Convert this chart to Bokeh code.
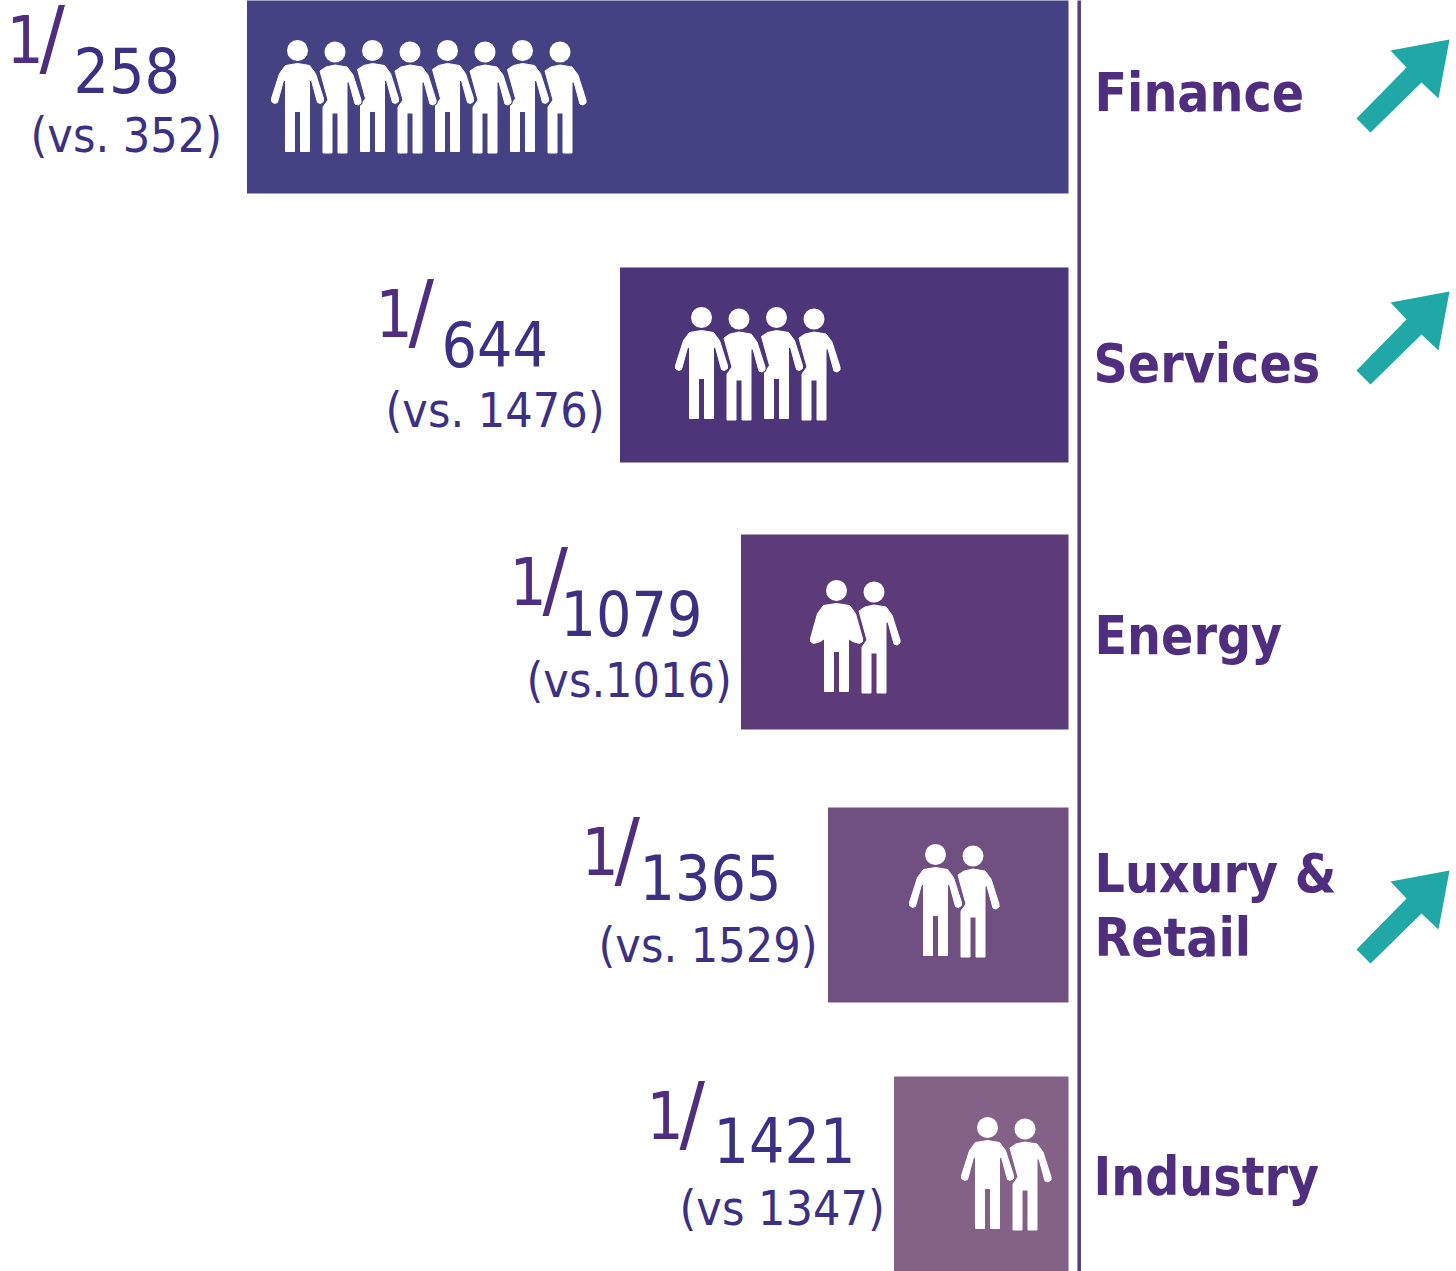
from bokeh.embed import file_html
from bokeh.resources import INLINE
from bokeh.plotting import figure
from bokeh.models import Range1d
from bokeh.core.properties import value

# ---- data
categories = ["Finance", "Services", "Energy", "Luxury &\nRetail", "Industry"]
current = ["258", "644", "1079", "1365", "1421"]
previous = ["(vs. 352)", "(vs. 1476)", "(vs.1016)", "(vs. 1529)", "(vs 1347)"]
bar_lengths = [821.5, 448.5, 327.5, 240.5, 174.5]
people = [8, 4, 2, 2, 2]
rising = [True, True, False, True, False]

# ---- layout
W, H = 1456, 1271
BAR_RIGHT = 1068
bar_tops = [-1, 267, 534, 807, 1076]
bar_bottoms = [193, 462, 729, 1002, 1272]
bar_colors = ["#454283", "#4d357a", "#5d3b78", "#705080", "#846288"]
one_x = [6, 375, 509, 581, 646]
one_y = [38, 312, 580, 850, 1114]
slash_x = [39, 408, 542, 614, 679]
slash_y = [36, 310, 578, 848, 1112]
cur_x = [73, 441, 560, 639, 713]
cur_y = [69, 343, 612, 876, 1139]
prev_x = [30, 385, 526, 598, 679]
prev_y = [134, 409, 679, 944, 1207]
label_x = [1094, 1093, 1094, 1094, 1093]
label_y = [92, 363, 635, 873, 1176]
head_x = [297, 701, 836, 935, 987]
head_y = [50, 317, 590, 854, 1127]
arrow_tip_y = [39, 291, None, 870, None]
STEP = 37.5
INK = "#3b3083"
PURPLE = "#4f2d7f"
TEAL = "#20a8a6"
FONT = "DejaVu Sans Condensed"

RIGHT_SIDE = [(0, 13), (12, 15), (18, 23), (26, 48), (26, 51), (23, 53), (20, 52), (14, 30),
              (12, 30), (12, 101), (3, 101), (3, 61), (-3, 61), (-3, 101), (-12, 101)]
LEFT_ARM = [(-12, 30), (-14, 30), (-20, 52), (-23, 53), (-26, 51), (-26, 48), (-18, 23), (-12, 15)]
LEFT_HIDDEN = [(-12, 55), (-7, 48), (-15, 19), (-9, 15)]
BODY_FRONT = RIGHT_SIDE + LEFT_ARM
BODY_BEHIND = RIGHT_SIDE + LEFT_HIDDEN
# the front figure in the Energy bar has arms merged with a broader torso
BODY_BROAD = [(0, 13), (13, 15), (19, 23), (26, 48), (26, 51), (23, 53), (16, 51), (12, 48), (12, 101),
              (3, 101), (3, 61), (-3, 61), (-3, 101), (-12, 101), (-12, 48), (-16, 51), (-23, 53),
              (-26, 51), (-26, 48), (-19, 23), (-13, 15)]
ARROW = [(-59, 11), (0, 0), (-11, 59), (-28, 43), (-79, 93), (-93, 79), (-43, 28)]

p = figure(width=W, height=H, x_range=Range1d(0, W), y_range=Range1d(H, 0),
           output_backend="svg", toolbar_location=None, min_border=0,
           outline_line_color=None)
p.axis.visible = False
p.grid.visible = False
p.styles = {"position": "absolute", "left": "0px", "top": "0px"}

lefts = [BAR_RIGHT - v for v in bar_lengths]
p.quad(left=lefts, right=[BAR_RIGHT] * 5, top=bar_tops, bottom=bar_bottoms,
       fill_color=bar_colors, line_color=None)
p.segment(x0=[1078.7], x1=[1078.7], y0=[-1], y1=[H + 1], line_color="#543a88", line_width=3.5)

# people, right to left so each overlaps its neighbour, with a bar-coloured halo
for i, n in enumerate(people):
    for k in range(n - 1, -1, -1):
        hx = head_x[i] + k * STEP
        hy = head_y[i] + (k % 2) * 1.5
        shape = BODY_BEHIND if k else (BODY_BROAD if i == 2 else BODY_FRONT)
        xs = [hx + a for a, b in shape]
        ys = [hy + b for a, b in shape]
        p.patch(xs, ys, fill_color=bar_colors[i], line_color=bar_colors[i], line_width=3, line_join="round")
        p.patch(xs, ys, fill_color="white", line_color="white", line_width=1, line_join="round")
        p.circle(x=[hx], y=[hy], radius=10.5, fill_color="white", line_color=None)

# arrows
for t in arrow_tip_y:
    if t is not None:
        p.patch([1449 + a for a, b in ARROW], [t + b for a, b in ARROW],
                fill_color=TEAL, line_color=None)


def txt(x, y, s, size, color, style="normal", baseline="alphabetic"):
    p.text(x=x, y=y, text=s, text_font=value(FONT), text_font_size=value(f"{size}px"),
           text_color=color, text_font_style=style, text_baseline=baseline, text_align="left")


txt(one_x, one_y, ["1"] * 5, 65, PURPLE, baseline="middle")
txt(slash_x, slash_y, ["/"] * 5, 84, PURPLE, baseline="middle")
txt(cur_x, cur_y, current, 62, INK)
txt(prev_x, prev_y, previous, 48, INK)

lx, ly, ls = [], [], []
for i, c in enumerate(categories):
    for j, part in enumerate(c.split("\n")):
        lx.append(label_x[i])
        ly.append(label_y[i] + j * 64)
        ls.append(part)
txt(lx, ly, ls, 53, PURPLE, "bold")

open("out.html", "w").write(file_html(p, INLINE))
